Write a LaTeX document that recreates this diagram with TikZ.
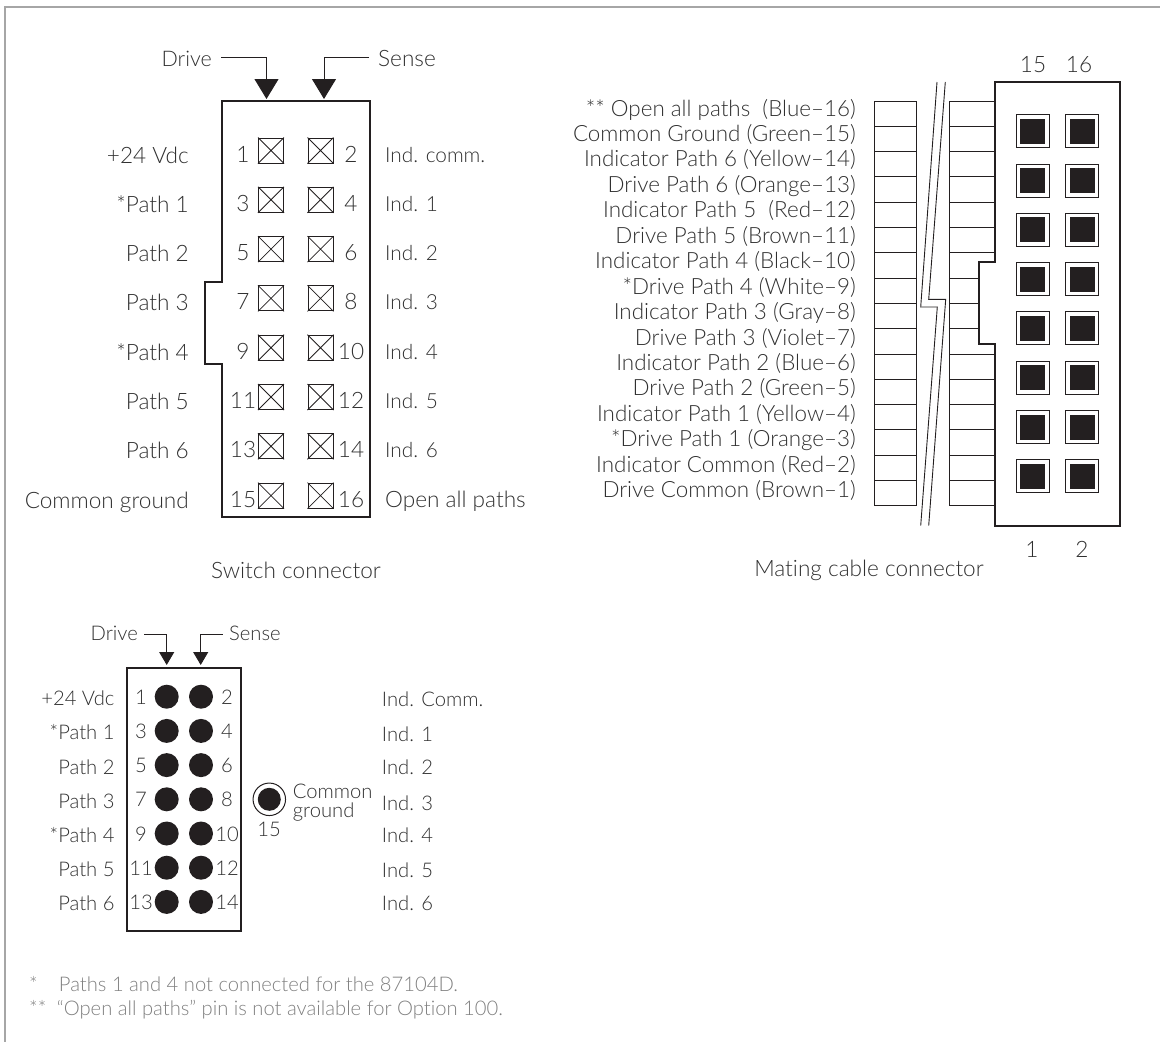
\documentclass[tikz,border=0pt]{standalone}
\usepackage{fontspec}
\setmainfont{Lato}[UprightFont=* Light,Ligatures=NoCommon]
\usetikzlibrary{arrows.meta}
\definecolor{ink}{HTML}{231F20}
\definecolor{txt}{HTML}{303030}
\definecolor{fnote}{HTML}{808080}
\definecolor{frame}{HTML}{A6A6A6}
\tikzset{
  x=1pt,y=-1pt,
  lab/.style={inner sep=0pt,text=txt,font=\fontsize{22.6}{26}\selectfont},
  labR/.style={lab,anchor=base east},
  labL/.style={lab,anchor=base west},
  labC/.style={lab,anchor=base},
  indlab/.style={labL,font=\fontsize{20.8}{24}\selectfont},
  small/.style={lab,font=\fontsize{20.2}{24}\selectfont},
  smallR/.style={small,anchor=base east},
  smallL/.style={small,anchor=base west},
  smallC/.style={small,anchor=base},
  wirelab/.style={inner sep=0pt,text=txt,font=\fontsize{22.4}{26}\selectfont,anchor=base east},
  fn/.style={inner sep=0pt,text=fnote,font=\fontsize{20.2}{24}\selectfont,anchor=base west},
  body/.style={draw=ink,line width=2pt,line join=miter},
  thin/.style={draw=ink,line width=1pt},
  bigarrow/.style={draw=ink,line width=1pt,-{Triangle[width=24pt,length=20pt,fill=ink]}},
  smallarrow/.style={draw=ink,line width=1pt,-{Triangle[width=15pt,length=13pt,fill=ink]}},
  xsq/.style={draw=ink,line width=1pt,minimum size=25pt,inner sep=0pt,fill=white},
  pin/.style={circle,fill=ink,minimum size=24pt,inner sep=0pt},
}
\begin{document}
\begin{tikzpicture}
\useasboundingbox (0,0) rectangle (1160,1042);
% frame
\draw[frame,line width=1.2pt] (5,1042) -- (5,7) -- (1160,7);

% ---------- switch connector
\draw[body] (222,101) -- (370,101) -- (370,517) -- (222,517) -- (222,364) -- (205,364) -- (205,282) -- (222,282) -- cycle;
\node[labR,font=\fontsize{21.5}{24}\selectfont] (drv) at (212,66) {Drive};
\node[labL] (sns) at (378,66) {Sense};
\coordinate (drvIn) at (221,57); \coordinate (drvTo) at (266.5,99);
\coordinate (snsIn) at (369,57); \coordinate (snsTo) at (324,99);
\draw[bigarrow] (drvIn) -| (drvTo);
\draw[bigarrow] (snsIn) -| (snsTo);
\foreach \r/\a/\b/\la/\lb in {0/1/2/+24 Vdc/Ind. comm.,1/3/4/*Path 1/Ind. 1,2/5/6/Path 2/Ind. 2,3/7/8/Path 3/Ind. 3,4/9/10/*Path 4/Ind. 4,5/11/12/Path 5/Ind. 5,6/13/14/Path 6/Ind. 6}{
  \pgfmathsetmacro\yy{150.5+49.3*\r}
  \pgfmathsetmacro\yb{\yy+11.5}
  \node[xsq] (sa\r) at (271,\yy) {};
  \node[xsq] (sb\r) at (320.5,\yy) {};
  \draw[ink,line width=.8pt] (sa\r.north west)--(sa\r.south east) (sa\r.north east)--(sa\r.south west);
  \draw[ink,line width=.8pt] (sb\r.north west)--(sb\r.south east) (sb\r.north east)--(sb\r.south west);
  \node[labC] (na\r) at (243,\yb) {\a};
  \node[labC] (nb\r) at (351,\yb) {\b};
  \node[labR] (la\r) at (189,\yb+1) {\la};
  \node[indlab] (lb\r) at (385,\yb) {\lb};
}
\node[xsq] (sa7) at (271,495.6) {};
\node[xsq] (sb7) at (320.5,495.6) {};
\draw[ink,line width=.8pt] (sa7.north west)--(sa7.south east) (sa7.north east)--(sa7.south west);
\draw[ink,line width=.8pt] (sb7.north west)--(sb7.south east) (sb7.north east)--(sb7.south west);
\node[labC] (na7) at (243,507.1) {15};
\node[labC] (nb7) at (351,507.1) {16};
\node[labR] (la7) at (189,508.1) {Common ground};
\node[labL] (lb7) at (385,507.1) {Open all paths};
\node[labC] (swcap) at (296,578.5) {Switch connector};

% ---------- mating cable connector
\foreach \r in {0,...,16}{
  \pgfmathsetmacro\yy{101+25.3*\r}
  \draw[thin] (874,\yy) -- (916,\yy);
  \draw[thin] (949,\yy) -- (995,\yy);
}
\draw[thin] (874,101) -- (874,505.8);
\draw[thin] (916,101) -- (916,505.8);
\draw[thin] (949,101) -- (949,505.8);
\draw[draw=ink,line width=2pt,fill=white] (995,82) -- (1119.5,82) -- (1119.5,525.7) -- (995,525.7) -- (995,344) -- (979,344) -- (979,262) -- (995,262) -- cycle;
\foreach \r in {7,8,9}{
  \pgfmathsetmacro\yy{101+25.3*\r}
  \draw[thin] (979,\yy) -- (949,\yy);
}
\coordinate (bk1a) at (937,82);
\coordinate (bk1b) at (920.7,307);
\coordinate (bk1c) at (937.3,307);
\coordinate (bk1d) at (920.7,525.7);
\coordinate (bk2a) at (945.3,82);
\coordinate (bk2b) at (928.7,299.3);
\coordinate (bk2c) at (945.7,299.3);
\coordinate (bk2d) at (928.7,525.7);
\draw[ink,line width=.9pt] (bk1a)--(bk1b)--(bk1c)--(bk1d);
\draw[ink,line width=.9pt] (bk2a)--(bk2b)--(bk2c)--(bk2d);
\foreach \r in {0,...,7}{
  \pgfmathsetmacro\yy{131.2+49.3*\r}
  \node[draw=ink,line width=1pt,fill=white,minimum size=33pt,inner sep=0pt] (ma\r) at (1032.5,\yy) {};
  \node[draw=ink,line width=1pt,fill=white,minimum size=33pt,inner sep=0pt] (mb\r) at (1082,\yy) {};
  \node[fill=ink,minimum size=25pt,inner sep=0pt] (ia\r) at (ma\r) {};
  \node[fill=ink,minimum size=25pt,inner sep=0pt] (ib\r) at (mb\r) {};
}
\node[labC] (t15) at (1033,72.5) {15};
\node[labC] (t16) at (1079,72.5) {16};
\node[labC] (t1) at (1032,557.5) {1};
\node[labC] (t2) at (1082,557.5) {2};
\node[labC] (mcap) at (869,576) {Mating cable connector};
\foreach \r/\t in {0/{** Open all paths\ \ (Blue–16)},1/{Common Ground (Green–15)},2/{Indicator Path 6 (Yellow–14)},3/{Drive Path 6 (Orange–13)},4/{Indicator Path 5\ \ (Red–12)},5/{Drive Path 5 (Brown–11)},6/{Indicator Path 4 (Black–10)},7/{*Drive Path 4 (White–9)},8/{Indicator Path 3 (Gray–8)},9/{Drive Path 3 (Violet–7)},10/{Indicator Path 2 (Blue–6)},11/{Drive Path 2 (Green–5)},12/{Indicator Path 1 (Yellow–4)},13/{*Drive Path 1 (Orange–3)},14/{Indicator Common (Red–2)},15/{Drive Common (Brown–1)}}{
  \pgfmathsetmacro\yy{116+25.45*\r}
  \node[wirelab] (w\r) at (856,\yy) {\t};
}

% ---------- lower connector
\draw[body] (126.7,668.3) rectangle (241.3,931);
\node[smallR] (drv2) at (138,640.5) {Drive};
\node[smallL] (sns2) at (229,640.5) {Sense};
\coordinate (drv2In) at (144,634); \coordinate (drv2To) at (166.7,665);
\coordinate (sns2In) at (222.7,634); \coordinate (sns2To) at (200.7,665);
\draw[smallarrow] (drv2In) -| (drv2To);
\draw[smallarrow] (sns2In) -| (sns2To);
\foreach \r/\a/\b/\la/\lb/\ly in {0/1/2/+24 Vdc/Ind. Comm./699,1/3/4/*Path 1/Ind. 1/734,2/5/6/Path 2/Ind. 2/767,3/7/8/Path 3/Ind. 3/803,4/9/10/*Path 4/Ind. 4/835,5/11/12/Path 5/Ind. 5/870,6/13/14/Path 6/Ind. 6/903}{
  \pgfmathsetmacro\yy{696.7+34.2*\r}
  \pgfmathsetmacro\yb{\yy+7.5}
  \node[pin] (pa\r) at (166.7,\yy) {};
  \node[pin] (pb\r) at (201,\yy) {};
  \node[smallC] (qa\r) at (141,\yb) {\a};
  \node[smallC] (qb\r) at (227,\yb) {\b};
  \node[smallR] (qc\r) at (114.7,\yb+1.5) {\la};
  \node[smallL] (qd\r) at (381.7,\ly+7) {\lb};
}
\node[circle,draw=ink,line width=1pt,minimum size=32.5pt,inner sep=0pt] (gnd) at (269.3,799.3) {};
\node[pin,minimum size=23pt] (gndp) at (gnd) {};
\node[smallC] (g15) at (269,836.5) {15};
\node[smallL] (gc) at (292.7,798) {Common};
\node[smallL] (gg) at (292.7,817.5) {ground};

% ---------- footnotes
\node[fn] (f1a) at (29,991) {*};
\node[fn] (f1b) at (58.7,991) {Paths 1 and 4 not connected for the 87104D.};
\node[fn] (f2a) at (29,1015) {**};
\node[fn] (f2b) at (56.7,1015) {“Open all paths” pin is not available for Option 100.};
\end{tikzpicture}
\end{document}
